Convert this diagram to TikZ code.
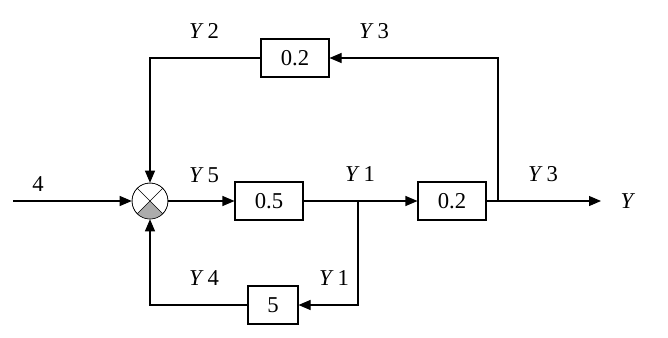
\documentclass[tikz,border=0pt]{standalone}
\usepackage{fontspec}
\setmainfont{Liberation Serif}
\usetikzlibrary{arrows.meta, positioning}

\begin{document}
\begin{tikzpicture}[x=0.75pt, y=-0.75pt,
    block/.style={draw, thick, minimum width=51pt, minimum height=28.5pt, inner sep=0pt, font=\fontsize{17}{20}\selectfont},
    lbl/.style={font=\fontsize{17}{20}\selectfont},
    wire/.style={thick},
    sig/.style={thick, -{Triangle[length=9pt, width=7.5pt]}}]
                \useasboundingbox (0,0) rectangle (668,337);
                % Summing junction
                \node[draw, circle, minimum size=27pt, inner sep=0pt] (sum) at (150,201) {};
                \fill[gray!65] (sum.center) -- ++(-135:13.5pt) arc[start angle=-135, end angle=-45, radius=13.5pt] -- cycle;
                \draw (sum.north west) -- (sum.south east);
                \draw (sum.north east) -- (sum.south west);
                \draw (sum) circle[radius=13.5pt];
                
                % Blocks
                \node[block] (k05) at (269,201) {0.5};
                \node[block] (k02) at (452,201) {0.2};
                \node[block] (kfb) at (295,58) {0.2};
                \node[block, minimum width=37.5pt] (k5) at (273,305) {5};
                
                % Branch points and ends
                \coordinate (in) at (13,201);
                \coordinate (out) at (601,201);
                \coordinate (br1) at (358,201);
                \coordinate (br3) at (498,201);
                
                % Forward path
                \draw[sig] (in) -- (sum.west);
                \draw[sig] (sum.east) -- (k05.west);
                \draw[sig] (k05.east) -- (k02.west);
                \draw[sig] (k02.east) -- (out);
                
                % Feedback paths
                \draw[sig] (br3) |- (kfb.east);
                \draw[sig] (kfb.west) -| (sum.north);
                \draw[sig] (br1) |- (k5.east);
                \draw[sig] (k5.west) -| (sum.south);
                
                % Signal labels
                \node[lbl] (l4) at (38,184) {4};
                \node[lbl] (ly5) at (204,175) {\textit{Y}\,5};
                \node[lbl] (ly1) at (360,174) {\textit{Y}\,1};
                \node[lbl] (ly3) at (543,174) {\textit{Y}\,3};
                \node[lbl] (ly) at (628,201) {\textit{Y}};
                \node[lbl] (ly2) at (204,31) {\textit{Y}\,2};
                \node[lbl] (ly3t) at (374,31) {\textit{Y}\,3};
                \node[lbl] (ly4) at (204,278) {\textit{Y}\,4};
                \node[lbl] (ly1b) at (334,278) {\textit{Y}\,1};
            \end{tikzpicture}
\end{document}
